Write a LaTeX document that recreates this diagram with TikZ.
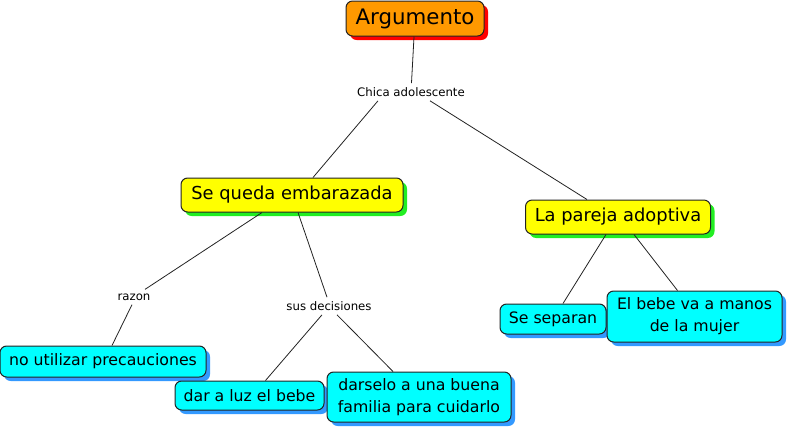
\documentclass[tikz,border=0pt]{standalone}
\usepackage{fontspec}
\setmainfont{DejaVu Sans}
\usetikzlibrary{calc,shadows}
\definecolor{cmOrange}{HTML}{FF9900}
\definecolor{cmRed}{HTML}{FF0000}
\definecolor{cmYellow}{HTML}{FFFF00}
\definecolor{cmGreen}{HTML}{22EE22}
\definecolor{cmCyan}{HTML}{00FFFF}
\definecolor{cmBlue}{HTML}{3399FF}
\definecolor{cmLine}{HTML}{222222}
\tikzset{
  concept/.style={rounded corners=5pt, draw=cmLine, line width=0.75pt,
              align=center, inner sep=2pt},
  root/.style={concept, fill=cmOrange, font=\fontsize{16}{19}\selectfont,
              drop shadow={shadow xshift=3pt, shadow yshift=-3pt, fill=cmRed, opacity=1}},
  topic/.style={concept, fill=cmYellow, font=\fontsize{13.4}{16}\selectfont,
              drop shadow={shadow xshift=3pt, shadow yshift=-3pt, fill=cmGreen, opacity=1}},
  leaf/.style={concept, fill=cmCyan, font=\fontsize{11.8}{16.5}\selectfont,
              drop shadow={shadow xshift=3pt, shadow yshift=-3pt, fill=cmBlue, opacity=1}},
  lbl/.style={font=\fontsize{8.8}{10}\selectfont, inner sep=3pt},
  link/.style={draw=cmLine, line width=0.6pt},
}
\begin{document}
\begin{tikzpicture}[x=0.75pt,y=-0.75pt]
  \useasboundingbox (0,0) rectangle (789,429);
  % concepts
  \node[root,minimum width=103.5pt,minimum height=26.25pt] (arg) at (415,18.5) {Argumento};
  \node[topic,minimum width=166.5pt,minimum height=25.5pt] (sequeda) at (292,195) {Se queda embarazada};
  \node[topic,minimum width=138.75pt,minimum height=25.5pt] (pareja) at (618,217) {La pareja adoptiva};
  \node[leaf,minimum width=154.5pt,minimum height=23.25pt] (noutil) at (103,361.5) {no utilizar precauciones};
  \node[leaf,minimum width=111.75pt,minimum height=21.75pt] (dar) at (249.5,395.5) {dar a luz el bebe};
  \node[leaf,minimum width=138pt,minimum height=37.5pt] (darselo) at (419,397) {darselo a una buena\\familia para cuidarlo};
  \node[leaf,minimum width=79.5pt,minimum height=22.5pt] (separan) at (553,319) {Se separan};
  \node[leaf,minimum width=131.25pt,minimum height=38.25pt] (bebe) at (694.5,316.5) {El bebe va a manos\\de la mujer};
  % linking phrases
  \node[lbl] (chica) at (411,92) {Chica adolescente};
  \node[lbl] (razon) at (134,297) {razon};
  \node[lbl] (sus) at (329,306) {sus decisiones};
  % links
  \draw[link] (arg) -- (chica);
  \draw[link] ($(chica.south)+(-33,0)$) -- ($(sequeda.north)+(21,0)$);
  \draw[link] ($(chica.south)+(19,0)$) -- ($(pareja.north)+(-31,0)$);
  \draw[link] ($(sequeda.south)+(-30,0)$) -- ($(razon.north)+(11,0)$);
  \draw[link] ($(razon.south)+(-2,0)$) -- ($(noutil.north)+(9,0)$);
  \draw[link] ($(sequeda.south)+(6,0)$) -- ($(sus.north)+(-2,0)$);
  \draw[link] ($(sus.south)+(-7,0)$) -- ($(dar.north)+(16,0)$);
  \draw[link] ($(sus.south)+(8,0)$) -- ($(darselo.north)+(-26,0)$);
  \draw[link] ($(pareja.south)+(-12,0)$) -- ($(separan.north)+(10,0)$);
  \draw[link] ($(pareja.south)+(16,0)$) -- ($(bebe.north)+(-17,0)$);
\end{tikzpicture}
\end{document}
